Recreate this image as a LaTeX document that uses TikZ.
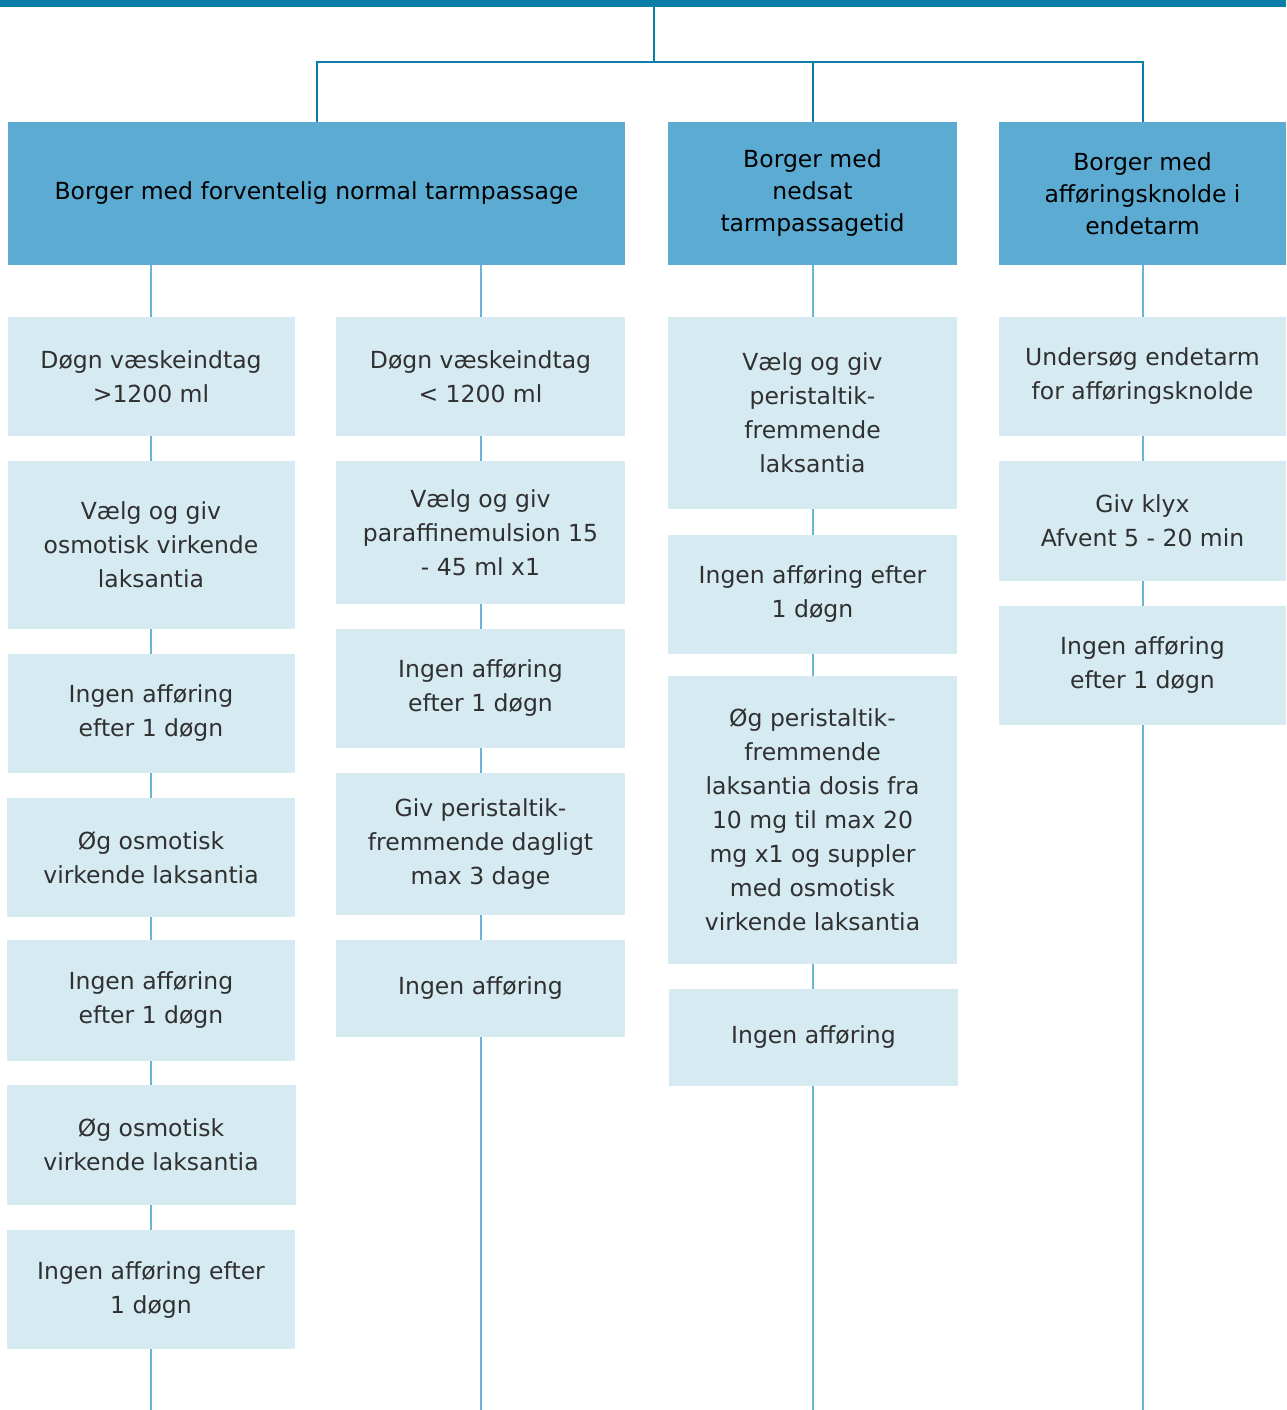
\documentclass[tikz,border=0pt]{standalone}
\usepackage{fontspec}
\setmainfont{DejaVu Sans}
\definecolor{topblue}{HTML}{0A7EA8}
\definecolor{hdrfill}{HTML}{5BABD3}
\definecolor{stepfill}{HTML}{D6EAF2}
\definecolor{lineblue}{HTML}{6AB4DA}
\definecolor{steptext}{HTML}{303030}
\usetikzlibrary{positioning}

\begin{document}
\begin{tikzpicture}[x=1pt,y=-1pt,
  hdrbox/.style={fill=hdrfill,inner sep=0pt,align=center,text=black,
    font=\fontsize{23.5}{32}\selectfont},
  stepbox/.style={fill=stepfill,inner sep=0pt,align=center,text=steptext,
    font=\fontsize{23.5}{34}\selectfont},
  topline/.style={draw=topblue,line width=2pt},
  colline/.style={draw=lineblue,line width=2pt}]

  \useasboundingbox (0,0) rectangle (1286,1410);

  % top bar and headers
  \node[fill=topblue,inner sep=0pt,minimum width=1286pt,minimum height=7pt] (bar) at (643,3.5) {};
  \coordinate (hub) at (654,62);
  \node[hdrbox,minimum width=617pt,minimum height=143pt] (h1) at (316.5,193.5)
    {Borger med forventelig normal tarmpassage};
  \node[hdrbox,minimum width=289pt,minimum height=143pt] (h2) at (812.5,193.5)
    {Borger med\\nedsat\\tarmpassagetid};
  \node[hdrbox,minimum width=287pt,minimum height=143pt] (h3) at (1142.5,193.5)
    {Borger med\\afføringsknolde i\\endetarm};

  \draw[topline] (hub |- bar.south) -- (hub);
  \draw[topline] (h1.north) |- (h3.north |- hub) -- (h3.north);
  \draw[topline] (h2.north) -- (h2.north |- hub);

  % column 1
  \node[stepbox,minimum width=287pt,minimum height=119pt] (b11) at (151,376.5)
    {Døgn væskeindtag\\>1200 ml};
  \node[stepbox,minimum width=287pt,minimum height=168pt] (b12) at (151,545)
    {Vælg og giv\\osmotisk virkende\\laksantia};
  \node[stepbox,minimum width=287pt,minimum height=119pt] (b13) at (151,713.5)
    {Ingen afføring\\efter 1 døgn};
  \node[stepbox,minimum width=288pt,minimum height=119pt] (b14) at (151,857.5)
    {Øg osmotisk\\virkende laksantia};
  \node[stepbox,minimum width=288pt,minimum height=121pt] (b15) at (151,1000.5)
    {Ingen afføring\\efter 1 døgn};
  \node[stepbox,minimum width=289pt,minimum height=120pt] (b16) at (151,1145)
    {Øg osmotisk\\virkende laksantia};
  \node[stepbox,minimum width=288pt,minimum height=119pt] (b17) at (151,1289.5)
    {Ingen afføring efter\\1 døgn};

  % column 2
  \node[stepbox,minimum width=289pt,minimum height=119pt] (b21) at (480.5,376.5)
    {Døgn væskeindtag\\< 1200 ml};
  \node[stepbox,minimum width=289pt,minimum height=143pt] (b22) at (480.5,532.5)
    {Vælg og giv\\paraffinemulsion 15\\- 45 ml x1};
  \node[stepbox,minimum width=289pt,minimum height=119pt] (b23) at (480.5,688.5)
    {Ingen afføring\\efter 1 døgn};
  \node[stepbox,minimum width=289pt,minimum height=142pt] (b24) at (480.5,844)
    {Giv peristaltik-\\fremmende dagligt\\max 3 dage};
  \node[stepbox,minimum width=289pt,minimum height=97pt] (b25) at (480.5,988.5)
    {Ingen afføring};

  % column 3
  \node[stepbox,minimum width=289pt,minimum height=192pt] (b31) at (812.5,413)
    {Vælg og giv\\peristaltik-\\fremmende\\laksantia};
  \node[stepbox,minimum width=289pt,minimum height=119pt] (b32) at (812.5,594.5)
    {Ingen afføring efter\\1 døgn};
  \node[stepbox,minimum width=289pt,minimum height=288pt] (b33) at (812.5,820)
    {Øg peristaltik-\\fremmende\\laksantia dosis fra\\10 mg til max 20\\mg x1 og suppler\\med osmotisk\\virkende laksantia};
  \node[stepbox,minimum width=289pt,minimum height=97pt] (b34) at (813.5,1037.5)
    {Ingen afføring};

  % column 4
  \node[stepbox,minimum width=287pt,minimum height=119pt] (b41) at (1142.5,376.5)
    {Undersøg endetarm\\for afføringsknolde};
  \node[stepbox,minimum width=287pt,minimum height=120pt] (b42) at (1142.5,521)
    {Giv klyx\\Afvent 5 - 20 min};
  \node[stepbox,minimum width=287pt,minimum height=119pt] (b43) at (1142.5,665.5)
    {Ingen afføring\\efter 1 døgn};

  \coordinate (e1) at (151,1410);
  \coordinate (e2) at (480.5,1410);
  \coordinate (e3) at (812.5,1410);
  \coordinate (e4) at (1142.5,1410);

  % connectors
  \draw[colline] (h1.south -| b11.north) -- (b11.north);
  \draw[colline] (h1.south -| b21.north) -- (b21.north);
  \draw[colline] (h2.south) -- (b31.north);
  \draw[colline] (h3.south) -- (b41.north);
  \foreach \a/\b in {b11/b12,b12/b13,b13/b14,b14/b15,b15/b16,b16/b17,
    b21/b22,b22/b23,b23/b24,b24/b25,b31/b32,b32/b33,b41/b42,b42/b43}
    \draw[colline] (\a.south) -- (\b.north);
  \draw[colline] (b17.south) -- (e1);
  \draw[colline] (b25.south) -- (e2);
  \draw[colline] (b33.south) -- (b34.north -| b33.south);
  \draw[colline] (b34.south -| e3) -- (e3);
  \draw[colline] (b43.south) -- (e4);
\end{tikzpicture}
\end{document}
